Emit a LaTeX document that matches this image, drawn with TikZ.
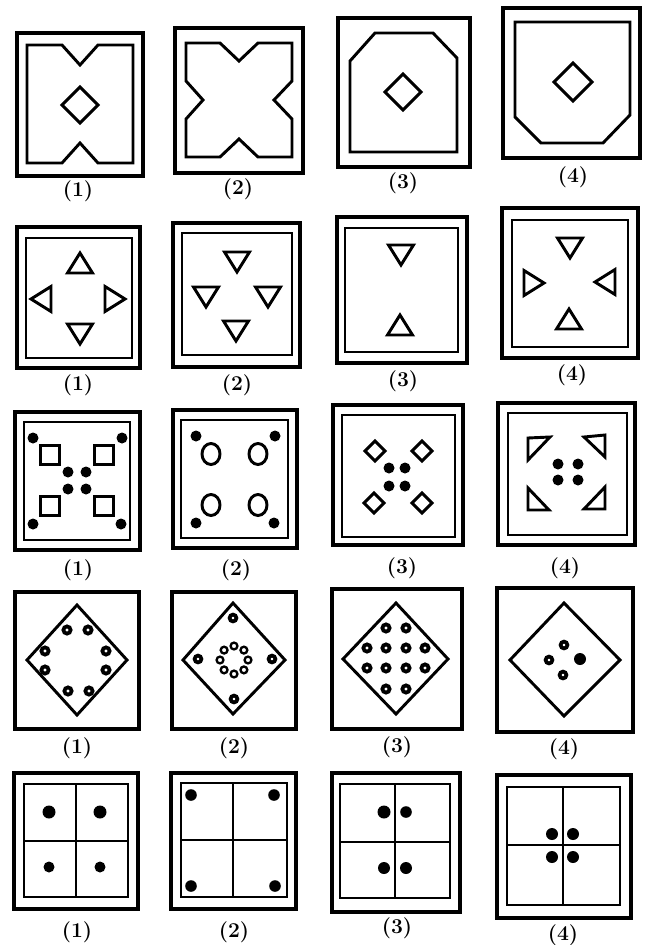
\documentclass[tikz,border=0pt]{standalone}
\usepackage{tikz}
\usetikzlibrary{calc}

\begin{document}
\begin{tikzpicture}[x=0.03cm, y=-0.03cm,
  frame/.style={line width=2.6pt},
  motif/.style={line width=2.5pt, line join=miter},
  grid/.style={line width=2.2pt},
  blob/.style={fill=black},
  ringdot/.style={draw, line width=3.2pt, fill=white},
  tag/.style={font=\bfseries\fontsize{18}{20}\selectfont, inner sep=0pt}]
\useasboundingbox (0,0) rectangle (649,945);

\begin{scope}[shift={(80,104)}]
  \draw[frame] (-63,-71) rectangle (63,72);
  \draw[motif] (-53,-59) -- (-18,-59) -- (0,-39) -- (18,-59) -- (53,-59) -- (53,59) -- (18,59) -- (0,39) -- (-18,59) -- (-53,59) -- cycle;
  \draw[motif] (0,-17) -- (18,1) -- (0,19) -- (-18,1) -- cycle;
\end{scope}
\begin{scope}[shift={(239,100)}]
  \draw[frame] (-64,-72) rectangle (64,73);
  \draw[motif] (-53,-57) -- (-19,-57) -- (0,-39) -- (19,-57) -- (53,-57) -- (53,-19) -- (35,0) -- (53,19) -- (53,57) -- (19,57) -- (0,39) -- (-19,57) -- (-53,57) -- (-53,19) -- (-36,0) -- (-53,-19) -- cycle;
\end{scope}
\begin{scope}[shift={(404,92)}]
  \draw[frame] (-66,-74) rectangle (66,75);
  \draw[motif] (-54,60) -- (-54,-31) -- (-29,-59) -- (29,-59) -- (53,-34) -- (53,60) -- cycle;
  \draw[motif] (-1,-18) -- (17,0) -- (-1,18) -- (-19,0) -- cycle;
\end{scope}
\begin{scope}[shift={(572,83)}]
  \draw[frame] (-69,-75) rectangle (68,75);
  \draw[motif] (-57,-61) -- (58,-61) -- (58,32) -- (31,60) -- (-31,60) -- (-57,34) -- cycle;
  \draw[motif] (1,-20) -- (20,-1) -- (1,18) -- (-18,-1) -- cycle;
\end{scope}
\foreach \x/\y/\n in {78/191/1, 238/189/2, 403/183/3, 573/177/4}
  \node[tag] (rowA\n) at (\x,\y) {(\n)};

\begin{scope}[shift={(79,298)}]
  \draw[frame] (-62,-71) rectangle (61,70);
  \draw[motif] (-53,-60) rectangle (53,60);
  \foreach \x/\y/\r in {1/-33/0, -36/1/90, 34/1/-90, 1/34/180}
    \draw[motif, shift={(\x,\y)}, rotate=\r] (0,-12) -- (12.5,8) -- (-12.5,8) -- cycle;
\end{scope}
\begin{scope}[shift={(237,295)}]
  \draw[frame] (-64,-72) rectangle (63,72);
  \draw[motif] (-55,-62) rectangle (55,60);
  \foreach \x/\y in {0/-35, -31/0, 31/0, -1/34}
    \draw[motif, shift={(\x,\y)}, rotate=180] (0,-12) -- (12.5,8) -- (-12.5,8) -- cycle;
\end{scope}
\begin{scope}[shift={(402,290)}]
  \draw[frame] (-65,-73) rectangle (65,73);
  \draw[motif] (-57,-62) rectangle (56,62);
  \foreach \x/\y/\r in {-1/-37/180, -2/37/0}
    \draw[motif, shift={(\x,\y)}, rotate=\r] (0,-12) -- (12.5,8) -- (-12.5,8) -- cycle;
\end{scope}
\begin{scope}[shift={(570,283)}]
  \draw[frame] (-68,-75) rectangle (68,75);
  \draw[motif] (-58,-63) rectangle (58,64);
  \foreach \x/\y/\r in {0/-37/180, -38/0/-90, 37/-1/90, -1/38/0}
    \draw[motif, shift={(\x,\y)}, rotate=\r] (0,-12) -- (12.5,8) -- (-12.5,8) -- cycle;
\end{scope}
\foreach \x/\y/\n in {78/385/1, 237/385/2, 403/381/3, 572/375/4}
  \node[tag] (rowB\n) at (\x,\y) {(\n)};

\begin{scope}[shift={(77,481)}]
  \draw[frame] (-62,-69) rectangle (63,69);
  \draw[motif] (-53,-59) rectangle (53,59);
  \foreach \x/\y in {-44/-43, 45/-43, -44/43, 44/43, -9/-9, 9/-9, -9/8, 9/8}
    \fill[blob] (\x,\y) circle (5.5);
  \foreach \x/\y in {-27/-26, 27/-26, -27/25, 27/25}
    \draw[motif, shift={(\x,\y)}] (-9.5,-9.5) rectangle (9.5,9.5);
\end{scope}
\begin{scope}[shift={(235,479)}]
  \draw[frame] (-62,-69) rectangle (62,69);
  \draw[motif] (-54,-59) rectangle (53,59);
  \foreach \x/\y in {-39/-43, 40/-43, -39/44, 39/44}
    \fill[blob] (\x,\y) circle (5.5);
  \foreach \x/\y in {-24/-25, 23/-25, -24/26, 23/26}
    \draw[motif] (\x,\y) ellipse (9 and 10.5);
\end{scope}
\begin{scope}[shift={(398,476)}]
  \draw[frame] (-65,-71) rectangle (65,69);
  \draw[motif] (-56,-61) rectangle (57,61);
  \foreach \x/\y in {-9/-8, 7/-8, -9/10, 7/10}
    \fill[blob] (\x,\y) circle (5.5);
  \foreach \x/\y in {-23/-25, 24/-25, -24/27, 24/27}
    \draw[motif, shift={(\x,\y)}] (0,-10) -- (10,0) -- (0,10) -- (-10,0) -- cycle;
\end{scope}
\begin{scope}[shift={(567,474)}]
  \draw[frame] (-69,-71) rectangle (68,71);
  \draw[motif] (-59,-61) rectangle (60,61);
  \foreach \x/\y in {-9/-10, 11/-10, -9/6, 11/6}
    \fill[blob] (\x,\y) circle (5.5);
  \draw[motif] (-39,-36) -- (-17,-37) -- (-39,-14) -- cycle;
  \draw[motif] (38,-39) -- (38,-17) -- (17,-37) -- cycle;
  \draw[motif] (-39,36) -- (-39,14) -- (-18,36) -- cycle;
  \draw[motif] (38,35) -- (17,35) -- (38,13) -- cycle;
\end{scope}
\foreach \x/\y/\n in {78/570/1, 236/570/2, 402/568/3, 565/568/4}
  \node[tag] (rowC\n) at (\x,\y) {(\n)};

\begin{scope}[shift={(77,660)}]
  \draw[frame] (-62,-68) rectangle (62,69);
  \draw[motif] (0,-55) -- (50,0) -- (0,55) -- (-50,0) -- cycle;
  \foreach \x/\y in {-10/-30, 11/-30, -32/-9, 29/-9, -32/10, 29/10, -9/31, 12/31}
    \draw[ringdot] (\x,\y) circle (3.6);
\end{scope}
\begin{scope}[shift={(234,660)}]
  \draw[frame] (-62,-68) rectangle (62,69);
  \draw[motif] (-1,-57) -- (51,0) -- (-1,54) -- (-51,0) -- cycle;
  \foreach \x/\y in {-1/-42, 0/39, -36/-1, 38/-1}
    \draw[ringdot] (\x,\y) circle (3.4);
  \foreach \a in {0,45,...,315}
    \draw[line width=2pt] (\a:14) circle (3.4);
\end{scope}
\begin{scope}[shift={(397,659)}]
  \draw[frame] (-65,-70) rectangle (65,70);
  \draw[motif] (-1,-56) -- (51,0) -- (-1,55) -- (-54,0) -- cycle;
  \foreach \x/\y in {-11/-31, 9/-31, -30/-11, -11/-11, 9/-11, 28/-11, -30/9, -11/9, 9/9, 28/9, -11/30, 9/30}
    \draw[ringdot] (\x,\y) circle (3.6);
\end{scope}
\begin{scope}[shift={(565,660)}]
  \draw[frame] (-68,-72) rectangle (68,72);
  \draw[motif] (-1,-57) -- (55,0) -- (-1,56) -- (-55,0) -- cycle;
  \foreach \x/\y in {-1/-15, -16/0, -2/15}
    \draw[ringdot] (\x,\y) circle (3.4);
  \fill[blob] (15,-1) circle (6);
\end{scope}
\foreach \x/\y/\n in {77/748/1, 234/748/2, 397/747/3, 564/749/4}
  \node[tag] (rowD\n) at (\x,\y) {(\n)};

\begin{scope}[shift={(76,841)}]
  \draw[frame] (-62,-68) rectangle (62,68);
  \draw[motif] (-52,-57) rectangle (52,56);
  \draw[grid] (0,-57) -- (0,56) (-52,0) -- (52,0);
  \foreach \x/\y/\s in {-27/-29/6.5, 24/-29/6.5, -27/26/5.5, 24/26/5.5}
    \fill[blob] (\x,\y) circle (\s);
\end{scope}
\begin{scope}[shift={(234,841)}]
  \draw[frame] (-63,-68) rectangle (62,68);
  \draw[motif] (-53,-58) rectangle (53,56);
  \draw[grid] (-1,-58) -- (-1,56) (-53,-1) -- (53,-1);
  \foreach \x/\y in {-43/-46, 40/-46, -43/45, 41/45}
    \fill[blob] (\x,\y) circle (5.8);
\end{scope}
\begin{scope}[shift={(396,842)}]
  \draw[frame] (-64,-69) rectangle (64,70);
  \draw[motif] (-56,-58) rectangle (54,56);
  \draw[grid] (-1,-58) -- (-1,56) (-56,0) -- (54,0);
  \foreach \x/\y/\s in {-12/-30/6.5, 10/-30/5.8, -12/26/6, 10/26/6}
    \fill[blob] (\x,\y) circle (\s);
\end{scope}
\begin{scope}[shift={(564,846)}]
  \draw[frame] (-67,-71) rectangle (67,72);
  \draw[motif] (-57,-59) rectangle (56,59);
  \draw[grid] (-1,-59) -- (-1,59) (-57,-1) -- (56,-1);
  \foreach \x/\y in {-12/-12, 9/-12, -12/11, 9/11}
    \fill[blob] (\x,\y) circle (6);
\end{scope}
\foreach \x/\y/\n in {77/932/1, 234/932/2, 397/928/3, 563/935/4}
  \node[tag] (rowE\n) at (\x,\y) {(\n)};
\end{tikzpicture}
\end{document}
